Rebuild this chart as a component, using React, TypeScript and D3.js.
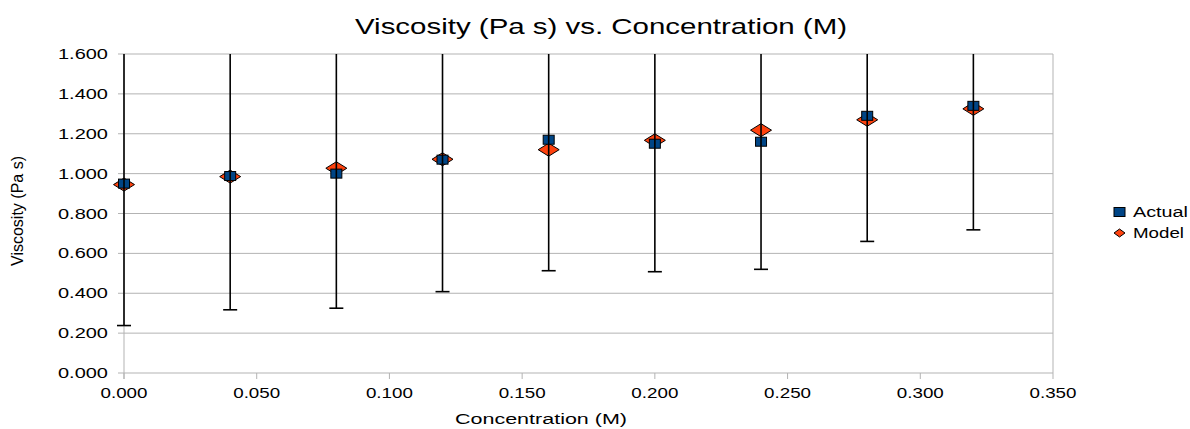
import React from "react"
import * as d3 from "d3"

const concentration = [0, 0.04, 0.08, 0.12, 0.16, 0.2, 0.24, 0.28, 0.32]
const actual = [0.95, 0.988, 1.0, 1.07, 1.17, 1.15, 1.16, 1.29, 1.34]
const model = [0.945, 0.985, 1.027, 1.072, 1.12, 1.167, 1.218, 1.27, 1.325]
const actualError = [0.712, 0.671, 0.675, 0.662, 0.657, 0.642, 0.64, 0.63, 0.622]
const xTicks = [0, 0.05, 0.1, 0.15, 0.2, 0.25, 0.3, 0.35]
const yTicks = [0, 0.2, 0.4, 0.6, 0.8, 1.0, 1.2, 1.4, 1.6]

const W = 1190
const H = 429
const left = 124
const right = 1053
const top = 54
const bottom = 373

const font = "'Liberation Sans', Arial, sans-serif"
const grid = "#b3b3b3"
const blue = "#004586"
const orange = "#ff420e"

export default function App() {
  const x = d3.scaleLinear().domain([0, 0.35]).range([left, right])
  const y = d3.scaleLinear().domain([0, 1.6]).range([bottom, top])
  const fmt = d3.format(".3f")

  const diamond = (cx: number, cy: number, w: number, h: number) =>
    `M${cx - w / 2},${cy} L${cx},${cy - h / 2} L${cx + w / 2},${cy} L${cx},${cy + h / 2} Z`

  return (
    <svg width={W} height={H} style={{ position: "absolute", left: 0, top: 0 }} fontFamily={font}>
      <defs>
        <clipPath id="plot">
          <rect x={left - 20} y={top} width={right - left + 40} height={bottom - top} />
        </clipPath>
      </defs>

      <text x={601} y={34} textAnchor="middle" fontSize={22} fill="#000" textLength={492} lengthAdjust="spacingAndGlyphs">
        Viscosity (Pa s) vs. Concentration (M)
      </text>

      {/* grid and axes */}
      {yTicks.map(t => (
        <g key={"y" + t}>
          <line x1={left - 6} x2={right} y1={y(t)} y2={y(t)} stroke={grid} strokeWidth={1} />
          <text x={108} y={y(t) + 5} textAnchor="end" fontSize={14} textLength={50} lengthAdjust="spacingAndGlyphs">
            {fmt(t)}
          </text>
        </g>
      ))}
      {xTicks.map(t => (
        <g key={"x" + t}>
          <line x1={x(t)} x2={x(t)} y1={bottom} y2={bottom + 6} stroke={grid} strokeWidth={1} />
          <text x={x(t)} y={398} textAnchor="middle" fontSize={14} textLength={47} lengthAdjust="spacingAndGlyphs">
            {fmt(t)}
          </text>
        </g>
      ))}
      <line x1={left} x2={left} y1={top} y2={bottom + 6} stroke={grid} strokeWidth={1} />
      <line x1={right} x2={right} y1={top} y2={bottom} stroke={grid} strokeWidth={1} />

      <text x={541} y={424} textAnchor="middle" fontSize={14} textLength={172} lengthAdjust="spacingAndGlyphs">
        Concentration (M)
      </text>
      <text transform={`translate(23,${211}) rotate(-90)`} textAnchor="middle" fontSize={16}>
        Viscosity (Pa s)
      </text>

      {concentration.map((c, i) => (
        <path key={"m" + i} d={diamond(x(c), y(model[i]), 21, 13)} fill={orange} stroke="#000" strokeWidth={1} />
      ))}
      {concentration.map((c, i) => (
        <rect key={"a" + i} x={x(c) - 5.5} y={y(actual[i]) - 4.5} width={11} height={9} fill={blue} stroke="#000" strokeWidth={1} />
      ))}
      <g clipPath="url(#plot)">
        {concentration.map((c, i) => {
          const lo = y(actual[i] - actualError[i])
          const hi = y(actual[i] + actualError[i])
          return (
            <g key={"e" + i} stroke="#000" strokeWidth={1.6}>
              <line x1={x(c)} x2={x(c)} y1={hi} y2={lo} />
              <line x1={x(c) - 7} x2={x(c) + 7} y1={lo} y2={lo} />
            </g>
          )
        })}
      </g>

      {/* legend */}
      <rect x={1114} y={207.5} width={11} height={9} fill={blue} stroke="#000" strokeWidth={1} />
      <text x={1133} y={217} fontSize={14} textLength={55} lengthAdjust="spacingAndGlyphs">Actual</text>
      <path d={diamond(1119.5, 233, 11, 8)} fill={orange} stroke="#000" strokeWidth={1} />
      <text x={1133} y={238} fontSize={14} textLength={51} lengthAdjust="spacingAndGlyphs">Model</text>
    </svg>
  )
}
